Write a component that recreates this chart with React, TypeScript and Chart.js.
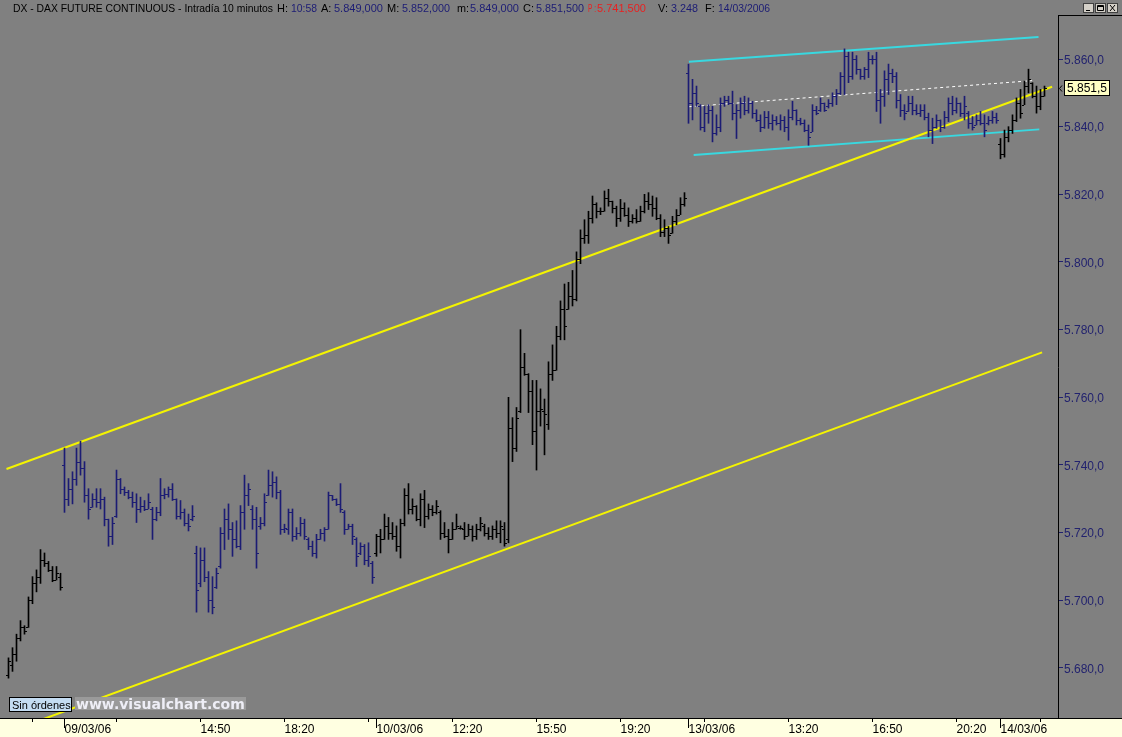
import React, { useEffect, useRef } from 'react';
import { Chart, registerables } from 'chart.js';

Chart.register(...registerables);

// ---------------- DATA (10-minute OHLC bars, DAX future) ----------------
// bars 0-13: 08/03/06, 14-91: 09/03/06, 92-169: 10/03/06, 170-247: 13/03/06, 248-259: 14/03/06
const OPEN = [
  5678, 5681, 5684, 5689, 5692, 5692, 5700, 5705, 5707, 5712, 5711, 5709, 5706, 5707,
  5740, 5730, 5733, 5736, 5741, 5739, 5731, 5727.5, 5730, 5729, 5730, 5724, 5719, 5725, 5736, 5733, 5732, 5730.5, 5729, 5727,
  5728, 5727, 5727, 5724, 5726, 5731, 5731.5, 5733, 5730, 5725, 5726, 5723, 5724, 5714, 5705, 5712, 5707, 5700, 5704, 5710,
  5720, 5724, 5721, 5718, 5716, 5726, 5731, 5727, 5724, 5722, 5723, 5731, 5734, 5735, 5732, 5721, 5721, 5726, 5719, 5720,
  5723, 5718, 5716, 5714, 5718, 5720, 5721, 5731, 5730, 5728.5, 5726, 5721, 5722, 5718, 5714, 5716, 5712, 5711,
  5714, 5719, 5718, 5722, 5720, 5719, 5716, 5723, 5731, 5727, 5728, 5724, 5730, 5725, 5727, 5726, 5726, 5720, 5719, 5718,
  5721, 5721.5, 5721, 5719, 5721, 5719, 5721, 5722, 5720, 5719, 5721, 5720, 5721, 5718, 5751, 5745, 5756, 5769, 5767, 5762,
  5750, 5756, 5756, 5752, 5767, 5768, 5778, 5786, 5786, 5790, 5789, 5801, 5807, 5808, 5813, 5817, 5815, 5815, 5819, 5818,
  5816, 5813, 5816, 5814, 5812, 5813, 5812, 5815, 5818, 5817, 5816, 5813, 5809, 5810, 5808.5, 5812, 5814, 5817,
  5856, 5847, 5850, 5846, 5840, 5844, 5845, 5838, 5840, 5847, 5848, 5847, 5844, 5845, 5847, 5845, 5847, 5844, 5842, 5840,
  5843, 5841, 5842, 5841, 5842, 5840, 5843, 5845, 5842, 5841, 5839, 5838.5, 5845, 5845, 5847, 5846, 5847, 5849, 5850, 5855,
  5861, 5855, 5860, 5857, 5855, 5857, 5860, 5860, 5848, 5849, 5854, 5856, 5855, 5848, 5845, 5844.5, 5847, 5845, 5844, 5845,
  5843, 5839, 5840, 5842, 5840, 5843, 5847, 5845, 5847, 5844, 5844, 5841, 5840.5, 5842, 5841, 5841, 5842, 5843,
  5835, 5832, 5837, 5839, 5842, 5847, 5846.5, 5852, 5853, 5849, 5846, 5849,
];
const HIGH = [
  5683, 5686, 5690, 5694, 5692.5, 5701, 5707, 5709, 5715, 5714, 5711.5, 5710, 5710, 5708,
  5745, 5736, 5738, 5745, 5747, 5741, 5733, 5731.5, 5733, 5733, 5730.5, 5724, 5724.5, 5738.5, 5736, 5733.5, 5732.5, 5732, 5731.5, 5730.5,
  5729.5, 5731.5, 5727.5, 5727.5, 5736, 5733, 5733.5, 5734.5, 5730, 5729.5, 5727, 5725.5, 5728, 5716, 5715.5, 5715.5, 5708.5, 5707, 5709.5, 5721.5,
  5727, 5728.5, 5723, 5723.5, 5728, 5737, 5734.5, 5728, 5727.5, 5724.5, 5731.5, 5738.5, 5738, 5736.5, 5732.5, 5722.5, 5727, 5727, 5721.5, 5724.5,
  5724, 5718.5, 5717.5, 5719.5, 5721, 5721.5, 5732, 5731, 5730, 5734.5, 5726.5, 5722.5, 5722.5, 5718.5, 5717, 5716.5, 5717, 5711.5,
  5719.5, 5721, 5725.5, 5724.5, 5723, 5722, 5724, 5733, 5734.5, 5730, 5728, 5731.5, 5732.5, 5728.5, 5728, 5729.5, 5726.5, 5723, 5721, 5723,
  5725.5, 5722, 5723, 5722.5, 5722, 5722.5, 5724.5, 5722.5, 5721.5, 5722, 5723.5, 5723.5, 5723, 5760, 5754, 5757, 5780, 5773, 5767, 5765,
  5765, 5762.5, 5759.5, 5770.5, 5775.5, 5781, 5788.5, 5793.5, 5794, 5797.5, 5803, 5809.5, 5812.5, 5815, 5819.5, 5817.5, 5816, 5821, 5821.5, 5818,
  5816.5, 5818.5, 5817.5, 5816, 5814, 5815.5, 5816.5, 5820, 5820.5, 5819.5, 5819, 5814, 5812.5, 5810.5, 5813.5, 5815.5, 5819, 5820.5,
  5858.5, 5854, 5852, 5846.5, 5846, 5846.5, 5846, 5843.5, 5848.5, 5849, 5849, 5850.5, 5846.5, 5848.5, 5849, 5848.5, 5847.5, 5845, 5843.5, 5844.5,
  5844.5, 5843.5, 5843, 5843.5, 5843, 5845, 5847.5, 5845, 5842.5, 5842, 5840.5, 5846.5, 5846, 5848.5, 5847, 5848, 5850, 5851, 5856, 5863,
  5862, 5862, 5861, 5857, 5857.5, 5862, 5861, 5862, 5851, 5856.5, 5858.5, 5857, 5856, 5849.5, 5846.5, 5849, 5849, 5846.5, 5846.5, 5846.5,
  5844, 5842.5, 5843.5, 5842, 5844.5, 5848.5, 5849, 5848.5, 5847, 5849, 5844.5, 5843, 5843.5, 5844.5, 5843.5, 5843, 5844.5, 5844,
  5836.5, 5839, 5840, 5843.5, 5848.5, 5851, 5853.5, 5857, 5853, 5852, 5851, 5852,
];
const LOW = [
  5677, 5679, 5682, 5688, 5690, 5692, 5699, 5702.5, 5705, 5710, 5708.5, 5705.5, 5706, 5703,
  5726, 5728, 5728.5, 5734, 5737, 5729, 5724, 5727.5, 5727.5, 5727, 5722, 5716, 5716.5, 5724.5, 5731.5, 5731, 5730, 5727.5, 5723, 5726,
  5726.5, 5727, 5718, 5723.5, 5725, 5730, 5730.5, 5729.5, 5724, 5724, 5722, 5720.5, 5723.5, 5696.5, 5704, 5705.5, 5696.5, 5696, 5703.5, 5709.5,
  5715, 5718, 5713, 5715.5, 5715, 5721, 5728, 5721, 5709.5, 5721, 5722, 5731, 5730.5, 5730, 5719.5, 5720, 5719.5, 5717.5, 5718, 5719,
  5718, 5715, 5713, 5712.5, 5718, 5717.5, 5721, 5729.5, 5728, 5726, 5719.5, 5721, 5716.5, 5710, 5713.5, 5710.5, 5710, 5705,
  5713, 5714, 5718, 5718, 5718, 5714.5, 5712.5, 5722, 5725.5, 5725.5, 5723.5, 5722, 5721.5, 5724, 5725, 5725.5, 5718, 5718.5, 5714, 5718,
  5721, 5721, 5718, 5719, 5717.5, 5718, 5720.5, 5719, 5718, 5718, 5718.5, 5717, 5716, 5717, 5741, 5744, 5755.5, 5766.5, 5755.5, 5746,
  5738.5, 5751.5, 5743, 5750.5, 5765, 5768, 5777, 5777, 5786, 5787, 5788.5, 5799.5, 5805.5, 5805.5, 5811.5, 5813, 5814, 5815, 5816.5, 5814.5,
  5810.5, 5812, 5813.5, 5810.5, 5811.5, 5811.5, 5812, 5814.5, 5815.5, 5813.5, 5812.5, 5807.5, 5807.5, 5805.5, 5808.5, 5811, 5814, 5816.5,
  5841, 5842, 5846, 5839, 5838.5, 5841, 5835.5, 5837.5, 5838.5, 5846, 5846.5, 5842, 5836.5, 5842.5, 5843.5, 5844, 5842.5, 5841.5, 5838.5, 5839.5,
  5839.5, 5839, 5840.5, 5839, 5838.5, 5836, 5842, 5840.5, 5840.5, 5838.5, 5834.5, 5838.5, 5843.5, 5844.5, 5844.5, 5845.5, 5846, 5846.5, 5849.5, 5849.5,
  5853, 5854, 5855.5, 5854, 5854, 5854.5, 5858.5, 5844.5, 5841, 5846, 5849.5, 5853, 5845.5, 5843, 5842, 5844.5, 5843.5, 5843.5, 5843, 5842,
  5837, 5835, 5839.5, 5838.5, 5839.5, 5841.5, 5843.5, 5844, 5843, 5842, 5839.5, 5839, 5840.5, 5840.5, 5837, 5840.5, 5841, 5841,
  5830.5, 5831, 5835.5, 5838, 5841.5, 5842.5, 5846.5, 5850, 5848.5, 5844, 5845, 5849,
];
const CLOSE = [
  5682, 5684, 5689, 5692, 5691, 5700, 5705, 5707, 5712, 5711, 5709, 5706, 5708, 5704,
  5730, 5733, 5736, 5741, 5739, 5731, 5727, 5730, 5729, 5730, 5724, 5719, 5723, 5736, 5733, 5732, 5730.5, 5729, 5727, 5728,
  5727, 5729, 5724, 5726, 5731, 5731.5, 5733, 5730, 5725, 5726, 5723, 5722, 5725, 5703, 5712, 5707, 5700, 5698, 5708, 5720,
  5724, 5721, 5718, 5716, 5726, 5731, 5733, 5724, 5714, 5723, 5729, 5734, 5735, 5732, 5721, 5721.5, 5726, 5719, 5720, 5723,
  5719, 5716, 5714, 5718, 5720, 5721, 5731, 5730, 5728.5, 5727, 5721, 5722, 5719, 5713, 5716, 5712, 5713, 5707,
  5719, 5718, 5722, 5720, 5719, 5716, 5723, 5731, 5727, 5728, 5724, 5730, 5725, 5727, 5726, 5728, 5720, 5719, 5718, 5721,
  5722, 5721.5, 5719, 5721, 5719, 5721, 5723, 5720, 5719, 5721, 5720, 5722, 5717, 5751, 5745, 5754, 5769, 5767, 5762, 5750,
  5756, 5756.5, 5755, 5767, 5768, 5778, 5786, 5781, 5790, 5789, 5801, 5807, 5808, 5813, 5817, 5815, 5815, 5819, 5818, 5816,
  5813, 5816, 5814, 5812, 5813, 5812, 5815, 5818, 5817, 5816, 5813, 5809, 5810, 5808, 5812, 5814, 5817, 5819,
  5847, 5850, 5847, 5840, 5844, 5845, 5838, 5840, 5847, 5848, 5847, 5844, 5845, 5847, 5845, 5847, 5844, 5842, 5840, 5843,
  5841, 5842, 5841, 5842, 5840, 5843, 5845, 5842, 5841, 5839, 5837, 5845, 5844, 5847, 5845, 5847, 5849, 5850, 5855, 5861,
  5855, 5860, 5857, 5855, 5857, 5860, 5860, 5848, 5849, 5854, 5856, 5855, 5848, 5845, 5844, 5847, 5845, 5844, 5845, 5843,
  5839, 5840, 5842, 5840, 5843, 5847, 5845, 5847, 5844, 5846, 5841, 5840, 5842, 5841, 5839, 5842, 5843, 5842,
  5832, 5837, 5839, 5842, 5847, 5844, 5852, 5854, 5849, 5846, 5849, 5851.5,
];

// day sessions (first bar index of each labelled day)
const DAY_START = [14, 92, 170, 248];
const DAY_LABELS = ['09/03/06', '10/03/06', '13/03/06', '14/03/06'];
// intraday time ticks (every 21 bars)
const TIME_TICKS = [6, 27, 48, 69, 90, 111, 132, 153, 174, 195, 216, 237, 258];
const TIME_LABELS = ['', '', '14:50', '18:20', '', '12:20', '15:50', '19:20', '', '13:20', '16:50', '20:20', ''];
const Y_TICKS = [5680, 5700, 5720, 5740, 5760, 5780, 5800, 5820, 5840, 5860];

// drawn trend lines (bar index, price)
const TREND_UPPER_X = [-0.5, 260.9];
const TREND_UPPER_Y = [5738.8, 5851.8];
const TREND_LOWER_X = [5.7, 258.4];
const TREND_LOWER_Y = [5663.6, 5773.3];
const CHANNEL_TOP_X = [170.1, 257.5];
const CHANNEL_TOP_Y = [5859.2, 5866.5];
const CHANNEL_BOTTOM_X = [171.3, 257.7];
const CHANNEL_BOTTOM_Y = [5831.6, 5839.2];
const CHANNEL_MID_X = [170.1, 255.9];
const CHANNEL_MID_Y = [5845.9, 5853.6];

// header texts
const HEADER_TEXT = [
  'DX - DAX FUTURE CONTINUOUS - Intradía 10 minutos', 'H:', '10:58', 'A:', '5.849,000', 'M:', '5.852,000',
  'm:', '5.849,000', 'C:', '5.851,500', 'P :', '5.741,500', 'V:', '3.248', 'F:', '14/03/2006',
];

// ---------------- STYLE ----------------
const BG = '#808080';
const NAVY = '#1c1c74';
const LABEL_NAVY = '#22226e';
const STRIP = '#ffffe1';
const FONT = "'Liberation Sans', Arial, sans-serif";
const HEADER_X = [13, 277, 291, 321, 334, 387, 402, 457, 470, 523, 536, 588, 597, 658, 671, 705, 718];
const HEADER_END = [273, 290, 317, 333, 383, 401, 450, 469, 519, 535, 584, 596, 654, 670, 698, 717, 770];
const HEADER_COL = ['#000', '#000', NAVY, '#000', NAVY, '#000', NAVY, '#000', NAVY, '#000', NAVY, '#e82020', '#e82020', '#000', NAVY, '#000', NAVY];

const X_MIN = -2.125;
const X_MAX = 262.375;
const Y_MIN = 5665.22;
const Y_MAX = 5872.71;

const fmtPrice = (v: number) => {
  const s = v.toFixed(1);
  const [i, d] = s.split('.');
  return i.replace(/\B(?=(\d{3})+(?!\d))/g, '.') + ',' + d;
};

const dayOf = (i: number) => DAY_START.filter((s) => s <= i).length;
const barColor = (i: number) => (dayOf(i) % 2 === 1 ? NAVY : '#000');

const bgPlugin = {
  id: 'bgPlugin',
  beforeDraw(chart: any) {
    const { ctx, width, height, chartArea } = chart;
    ctx.save();
    ctx.fillStyle = BG;
    ctx.fillRect(0, 0, width, height);
    ctx.fillStyle = STRIP;
    ctx.fillRect(0, chartArea.bottom, width, height - chartArea.bottom);
    // header
    ctx.font = `11px ${FONT}`;
    ctx.textBaseline = 'alphabetic';
    HEADER_TEXT.forEach((t, k) => {
      ctx.fillStyle = HEADER_COL[k];
      ctx.fillText(t, HEADER_X[k], 12, HEADER_END[k] - HEADER_X[k]);
    });
    // window buttons
    const bx = [1083, 1095, 1107];
    bx.forEach((x, k) => {
      ctx.fillStyle = '#d4d0c8';
      ctx.fillRect(x, 3, 11, 10);
      ctx.strokeStyle = '#404040';
      ctx.lineWidth = 1;
      ctx.strokeRect(x + 0.5, 3.5, 10, 9);
      ctx.strokeStyle = '#000';
      ctx.beginPath();
      if (k === 0) {
        ctx.moveTo(x + 3, 10.5); ctx.lineTo(x + 7, 10.5);
      } else if (k === 1) {
        ctx.rect(x + 2.5, 5.5, 6, 5);
        ctx.moveTo(x + 2.5, 6.5); ctx.lineTo(x + 8.5, 6.5);
      } else {
        ctx.moveTo(x + 3, 5); ctx.lineTo(x + 8, 11);
        ctx.moveTo(x + 8, 5); ctx.lineTo(x + 3, 11);
      }
      ctx.stroke();
    });
    ctx.restore();
  },
};

const ohlcPlugin = {
  id: 'ohlcPlugin',
  afterDatasetsDraw(chart: any) {
    const { ctx } = chart;
    const xs = chart.scales.x;
    const ys = chart.scales.y;
    ctx.save();
    ctx.lineWidth = 1;
    for (let i = 0; i < HIGH.length; i++) {
      const px = Math.round(xs.getPixelForValue(i) - 0.5);
      const po = Math.round(ys.getPixelForValue(OPEN[i])) + 0.5;
      const pc = Math.round(ys.getPixelForValue(CLOSE[i])) + 0.5;
      ctx.strokeStyle = barColor(i);
      ctx.beginPath();
      ctx.moveTo(px - 2, po); ctx.lineTo(px, po);
      ctx.moveTo(px + 1, pc); ctx.lineTo(px + 3, pc);
      ctx.stroke();
    }
    ctx.restore();
  },
};

const overlayPlugin = {
  id: 'overlayPlugin',
  afterDraw(chart: any) {
    const { ctx, width, chartArea } = chart;
    const xs = chart.scales.x;
    const ys = chart.scales.y;
    ctx.save();
    ctx.strokeStyle = '#000';
    ctx.lineWidth = 1;
    // frame lines
    ctx.beginPath();
    ctx.moveTo(0, chartArea.bottom + 0.5); ctx.lineTo(width, chartArea.bottom + 0.5);
    ctx.moveTo(chartArea.right, chartArea.top - 0.5); ctx.lineTo(width, chartArea.top - 0.5);
    ctx.stroke();
    // taller day ticks
    ctx.beginPath();
    DAY_START.forEach((d) => {
      const px = Math.round(xs.getPixelForValue(d) - 0.5) + 0.5;
      ctx.moveTo(px, chartArea.bottom + 4); ctx.lineTo(px, chartArea.bottom + 10);
    });
    ctx.stroke();
    // last price label
    const last = CLOSE[CLOSE.length - 1];
    const py = Math.round(ys.getPixelForValue(last));
    const lx = chartArea.right + 6;
    ctx.fillStyle = '#ffffc4';
    ctx.fillRect(lx, py - 8, 46, 16);
    ctx.strokeRect(lx + 0.5, py - 7.5, 45, 15);
    ctx.beginPath();
    ctx.moveTo(lx - 2, py - 2.5); ctx.lineTo(lx - 4.5, py + 0.5); ctx.lineTo(lx - 2, py + 3.5);
    ctx.stroke();
    ctx.fillStyle = '#000';
    ctx.font = `12px ${FONT}`;
    ctx.textBaseline = 'middle';
    ctx.fillText(fmtPrice(last), lx + 3, py + 1);
    // "Sin órdenes" box
    ctx.fillStyle = '#c4dcf2';
    ctx.fillRect(9, 697, 63, 15);
    ctx.strokeRect(9.5, 697.5, 62, 14);
    ctx.fillStyle = '#000';
    ctx.font = `11px ${FONT}`;
    ctx.textBaseline = 'alphabetic';
    ctx.fillText('Sin órdenes', 12, 709);
    // watermark
    ctx.fillStyle = '#9a9a9a';
    ctx.fillRect(75, 697, 171, 13);
    ctx.fillStyle = '#eeeef6';
    ctx.font = `bold 14px 'DejaVu Sans', Verdana, sans-serif`;
    ctx.fillText('www.visualchart.com', 76, 709, 169);
    ctx.restore();
  },
};

export default function App() {
  const ref = useRef<HTMLCanvasElement | null>(null);

  useEffect(() => {
    document.body.style.margin = '0';
    const canvas = ref.current;
    if (!canvas) return;

    const barData = HIGH.map((h, i) => ({ x: i, y: [LOW[i], h] }));
    const line = (xs: number[], ys: number[]) => xs.map((x, k) => ({ x, y: ys[k] }));

    const xTickLabels: Record<number, string> = {};
    TIME_TICKS.forEach((t, k) => { xTickLabels[t] = TIME_LABELS[k]; });
    DAY_START.forEach((t, k) => { xTickLabels[t] = DAY_LABELS[k]; });
    const xTickValues = [...TIME_TICKS, ...DAY_START].sort((a, b) => a - b);

    const chart = new Chart(canvas, {
      type: 'bar',
      data: {
        datasets: [
          {
            type: 'bar',
            data: barData as any,
            backgroundColor: HIGH.map((_, i) => barColor(i)),
            borderWidth: 0,
            barThickness: 1,
            order: 0,
          } as any,
          {
            type: 'line',
            data: line(TREND_UPPER_X, TREND_UPPER_Y),
            borderColor: '#f4f400',
            borderWidth: 2,
            pointRadius: 0,
            order: 1,
          },
          {
            type: 'line',
            data: line(TREND_LOWER_X, TREND_LOWER_Y),
            borderColor: '#f4f400',
            borderWidth: 2,
            pointRadius: 0,
            order: 1,
          },
          {
            type: 'line',
            data: line(CHANNEL_TOP_X, CHANNEL_TOP_Y),
            borderColor: '#38d8e0',
            borderWidth: 2,
            pointRadius: 0,
            order: 1,
          },
          {
            type: 'line',
            data: line(CHANNEL_BOTTOM_X, CHANNEL_BOTTOM_Y),
            borderColor: '#38d8e0',
            borderWidth: 2,
            pointRadius: 0,
            order: 1,
          },
          {
            type: 'line',
            data: line(CHANNEL_MID_X, CHANNEL_MID_Y),
            borderColor: '#ffffff',
            borderWidth: 1,
            borderDash: [3, 3],
            pointRadius: 0,
            order: 1,
          },
        ],
      },
      options: {
        responsive: false,
        animation: false,
        devicePixelRatio: 1,
        layout: { padding: { top: 16, left: 0, right: 0, bottom: 0 } },
        plugins: {
          legend: { display: false },
          tooltip: { enabled: false },
          title: { display: false },
        },
        scales: {
          x: {
            type: 'linear',
            min: X_MIN,
            max: X_MAX,
            offset: false,
            afterFit: (s: any) => { s.height = 19; },
            afterBuildTicks: (s: any) => { s.ticks = xTickValues.map((v) => ({ value: v })); },
            grid: { drawOnChartArea: false, tickLength: 4, tickColor: '#000', offset: false },
            border: { color: '#000', width: 1 },
            ticks: {
              align: 'start',
              maxRotation: 0,
              autoSkip: false,
              padding: 0,
              color: '#000',
              font: { family: FONT, size: 12 },
              callback: (v: any) => xTickLabels[v as number] ?? '',
            },
          },
          y: {
            type: 'linear',
            position: 'right',
            min: Y_MIN,
            max: Y_MAX,
            afterFit: (s: any) => { s.width = 64; },
            afterBuildTicks: (s: any) => { s.ticks = Y_TICKS.map((v) => ({ value: v })); },
            grid: { drawOnChartArea: false, tickLength: 5, tickColor: LABEL_NAVY },
            border: { color: '#000', width: 1 },
            ticks: {
              padding: 1,
              labelOffset: 1.5,
              color: LABEL_NAVY,
              font: { family: FONT, size: 12 },
              callback: (v: any) => fmtPrice(Number(v)),
            },
          },
        },
      } as any,
      plugins: [bgPlugin, ohlcPlugin, overlayPlugin],
    });

    return () => chart.destroy();
  }, []);

  return (
    <div style={{ width: 1122, height: 737 }}>
      <canvas ref={ref} width={1122} height={737} style={{ display: 'block' }} />
    </div>
  );
}
